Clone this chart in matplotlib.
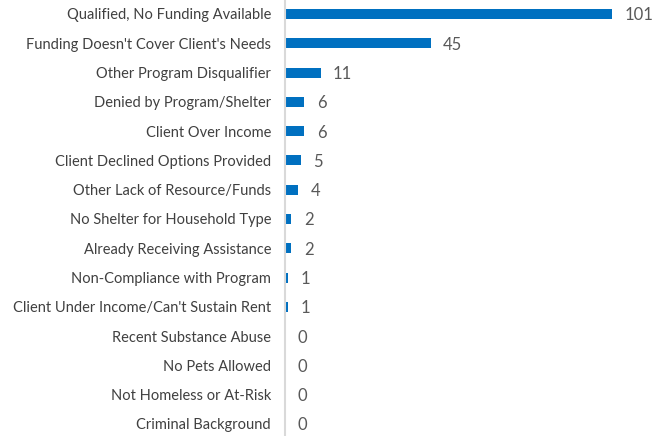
import matplotlib.pyplot as plt

categories = [
    "Qualified, No Funding Available",
    "Funding Doesn't Cover Client's Needs",
    "Other Program Disqualifier",
    "Denied by Program/Shelter",
    "Client Over Income",
    "Client Declined Options Provided",
    "Other Lack of Resource/Funds",
    "No Shelter for Household Type",
    "Already Receiving Assistance",
    "Non-Compliance with Program",
    "Client Under Income/Can't Sustain Rent",
    "Recent Substance Abuse",
    "No Pets Allowed",
    "Not Homeless or At-Risk",
    "Criminal Background",
]
counts = [101, 45, 11, 6, 6, 5, 4, 2, 2, 1, 1, 0, 0, 0, 0]

plt.rcParams['font.family'] = ['Lato', 'DejaVu Sans']

fig = plt.figure(figsize=(6.62, 4.36), dpi=100)
ax = fig.add_axes([285 / 662, 0, 377 / 662, 1])

pos = list(range(len(categories)))
ax.barh(pos, counts, height=0.34, color='#0070C0')

ax.set_xlim(0, 377 / 3.24)
ax.set_ylim(14.41, -0.478)

for y, v in zip(pos, counts):
    ax.text(v + 3.8, y + 0.05, str(v), va='center', ha='left', fontsize=12, color='#595959')

ax.set_yticks(pos)
ax.set_yticklabels(categories, fontsize=10.5, color='#404040')
ax.tick_params(axis='y', length=0, pad=10)
ax.set_xticks([])

for s in ['top', 'right', 'bottom']:
    ax.spines[s].set_visible(False)
ax.spines['left'].set_color('#d9d9d9')
ax.spines['left'].set_linewidth(1.5)

fig.savefig('out.png', dpi=100)
